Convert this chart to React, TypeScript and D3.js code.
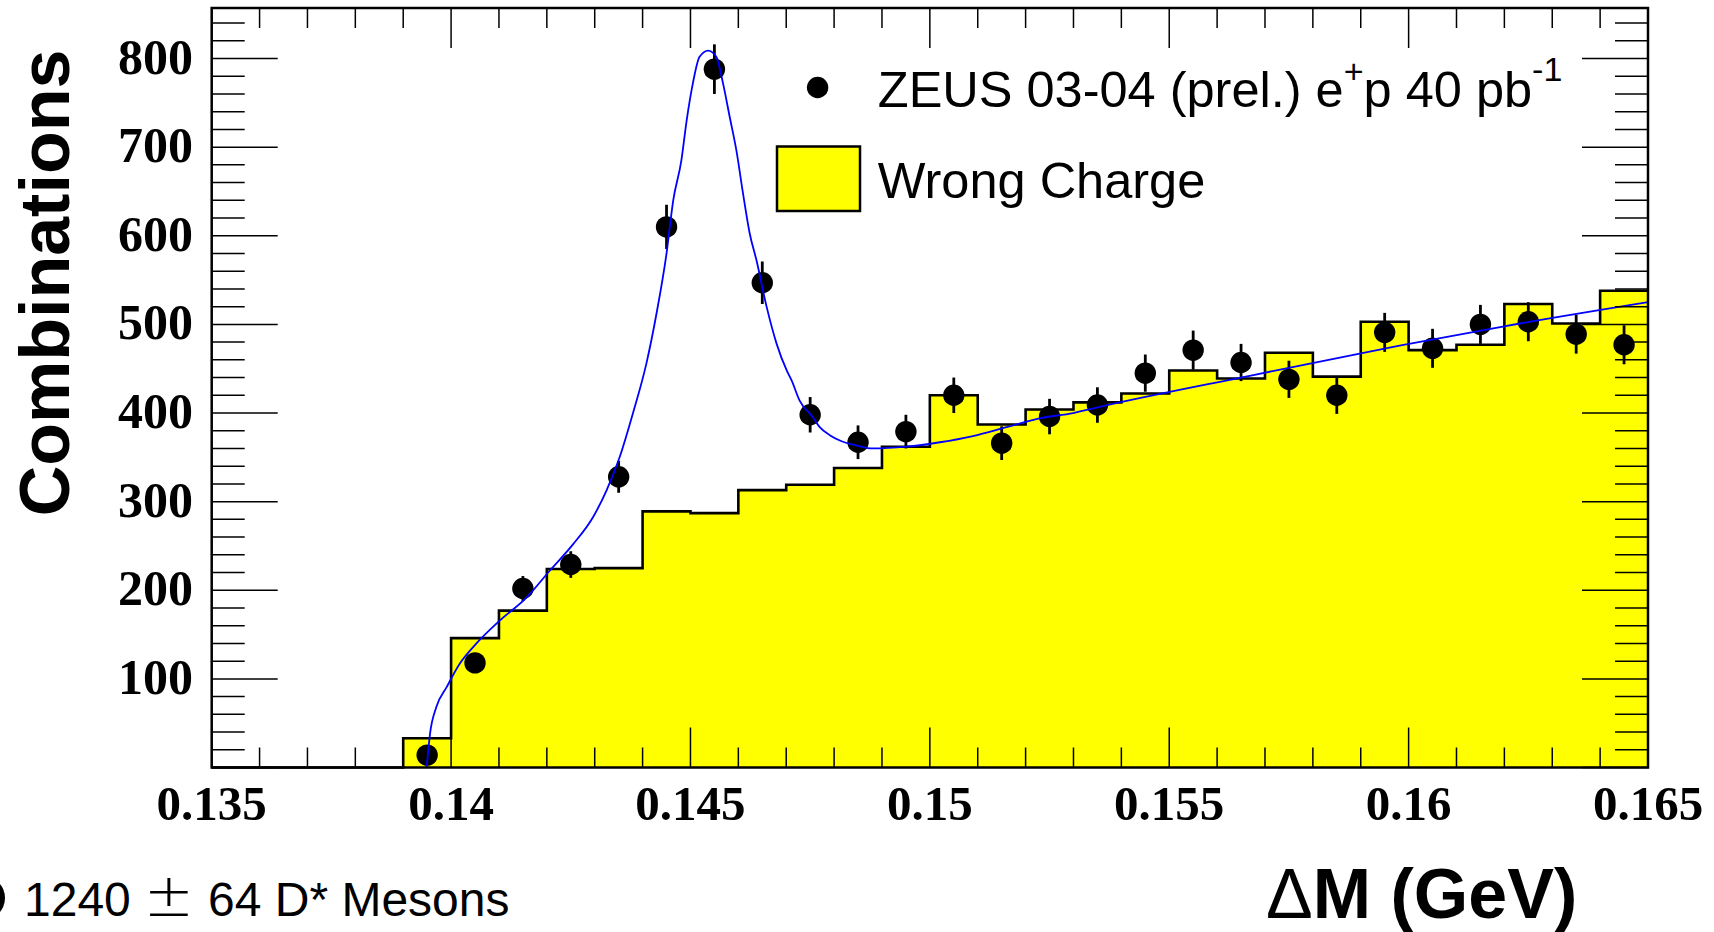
import React from "react";
import * as d3 from "d3";

// Lower edges of the 0.001 GeV bins of the Wrong Charge histogram
const binEdges = [
  0.135, 0.136, 0.137, 0.138, 0.139, 0.14, 0.141, 0.142, 0.143, 0.144,
  0.145, 0.146, 0.147, 0.148, 0.149, 0.15, 0.151, 0.152, 0.153, 0.154,
  0.155, 0.156, 0.157, 0.158, 0.159, 0.16, 0.161, 0.162, 0.163, 0.164,
];
const wrongCharge = [
  0, 0, 0, 0, 33, 146, 177, 224, 225, 289,
  287, 313, 319, 338, 362, 420, 387, 404, 412, 422,
  448, 439, 468, 441, 503, 471, 477, 523, 501, 538,
];

// ZEUS data points (bin centres), counts and statistical errors
const dataX = [
  0.1395, 0.1405, 0.1415, 0.1425, 0.1435, 0.1445, 0.1455, 0.1465, 0.1475,
  0.1485, 0.1495, 0.1505, 0.1515, 0.1525, 0.1535, 0.1545, 0.1555, 0.1565,
  0.1575, 0.1585, 0.1595, 0.1605, 0.1615, 0.1625, 0.1635, 0.1645,
];
const dataY = [
  14, 118, 202, 229, 328, 610, 788, 547, 398, 367, 379, 420, 366, 396, 409,
  445, 471, 457, 438, 420, 491, 473, 500, 503, 489, 477,
];
const dataErr = [
  4, 11, 14, 15, 18, 25, 28, 24, 20, 19, 19, 20, 19, 20, 20, 21, 22, 21, 21,
  21, 22, 22, 22, 22, 22, 22,
];

// Fitted signal + background curve, sampled
const fitX = [
  0.13949, 0.13956, 0.13969, 0.13991, 0.14018, 0.14053, 0.14102, 0.14158,
  0.14206, 0.14255, 0.14297, 0.14325, 0.14352, 0.1438, 0.14408, 0.14429,
  0.1445, 0.14464, 0.14481, 0.14492, 0.14505, 0.14519, 0.14537, 0.14554,
  0.14568, 0.14582, 0.14596, 0.1461, 0.14624, 0.14638, 0.14659, 0.1468,
  0.14701, 0.14711, 0.14728, 0.14756, 0.1477, 0.14791, 0.14812, 0.1485,
  0.14881, 0.14951, 0.15021, 0.1509, 0.1516, 0.15229, 0.15299, 0.15355,
  0.15668, 0.15981, 0.16191, 0.165,
];
const fitY = [
  0, 38, 68, 91, 117, 140, 166, 192, 222, 252, 283, 313, 350, 400, 456, 512,
  580, 640, 685, 730, 772, 802, 809, 802, 772, 734, 696, 647, 602, 572, 520,
  478, 448, 437, 414, 395, 384, 375, 369, 363, 360, 362, 367, 374, 384, 394,
  400, 407, 442, 476, 497, 525,
];

const xTickValues = [0.135, 0.14, 0.145, 0.15, 0.155, 0.16, 0.165];
const xTickLabels = ["0.135", "0.14", "0.145", "0.15", "0.155", "0.16", "0.165"];
const yTickValues = [100, 200, 300, 400, 500, 600, 700, 800];

const W = 1714;
const H = 932;
const frame = { left: 211.7, right: 1648, top: 8, bottom: 767.5 };

const x = d3.scaleLinear().domain([0.135, 0.165]).range([frame.left, frame.right]);
const y = d3.scaleLinear().domain([0, 857]).range([frame.bottom, frame.top]);

const serif = "'Liberation Serif', 'Times New Roman', serif";
const sans = "'Liberation Sans', Arial, Helvetica, sans-serif";

export default function App() {
  // histogram as step function
  const stepPts: [number, number][] = binEdges.map((e, i) => [e, wrongCharge[i]]);
  stepPts.push([0.165, wrongCharge[wrongCharge.length - 1]]);

  const histArea = d3
    .area<[number, number]>()
    .x((d) => x(d[0]))
    .y0(y(0))
    .y1((d) => y(d[1]))
    .curve(d3.curveStepAfter)(stepPts) as string;
  const histLine = d3
    .line<[number, number]>()
    .x((d) => x(d[0]))
    .y((d) => y(d[1]))
    .curve(d3.curveStepAfter)(stepPts) as string;

  const fitPts: [number, number][] = fitX.map((v, i) => [v, fitY[i]]);
  const fitPath = d3
    .line<[number, number]>()
    .x((d) => x(d[0]))
    .y((d) => y(d[1]))
    .curve(d3.curveMonotoneX)(fitPts) as string;

  // minor ticks
  const xMinor = d3.range(0, 31).map((i) => 0.135 + i * 0.001);
  const yMinor = d3.range(0, 43).map((i) => i * 20);

  const majorYLen = 66;
  const minorYLen = 33;
  const majorXLen = 40;
  const minorXLen = 20;

  const isMajorX = (v: number) => xTickValues.some((t) => Math.abs(t - v) < 1e-7);

  return (
    <svg
      width={W}
      height={H}
      style={{ position: "absolute", left: 0, top: 0, display: "block", background: "#fff" }}
    >
      {/* Wrong Charge histogram */}
      <path d={histArea} fill="#ffff00" stroke="none" />
      <path d={histLine} fill="none" stroke="#000" strokeWidth={2.6} />

      {/* Data points with error bars */}
      {dataX.map((v, i) => (
        <g key={"p" + i}>
          <line
            x1={x(v)}
            x2={x(v)}
            y1={y(dataY[i] - dataErr[i])}
            y2={y(dataY[i] + dataErr[i])}
            stroke="#000"
            strokeWidth={2.8}
          />
          <circle cx={x(v)} cy={y(dataY[i])} r={10.7} fill="#000" />
        </g>
      ))}

      {/* Fit */}
      <path d={fitPath} fill="none" stroke="#0000ff" strokeWidth={1.8} />

      {/* Axis ticks: bottom/top */}
      {xMinor.map((v, i) => {
        const len = isMajorX(v) ? majorXLen : minorXLen;
        return (
          <g key={"xt" + i}>
            <line x1={x(v)} x2={x(v)} y1={frame.bottom} y2={frame.bottom - len} stroke="#000" strokeWidth={1.5} />
            <line x1={x(v)} x2={x(v)} y1={frame.top} y2={frame.top + len} stroke="#000" strokeWidth={1.5} />
          </g>
        );
      })}
      {/* Axis ticks: left/right */}
      {yMinor.map((v, i) => {
        if (y(v) < frame.top) return null;
        const len = v % 100 === 0 ? majorYLen : minorYLen;
        return (
          <g key={"yt" + i}>
            <line x1={frame.left} x2={frame.left + len} y1={y(v)} y2={y(v)} stroke="#000" strokeWidth={1.5} />
            <line x1={frame.right} x2={frame.right - len} y1={y(v)} y2={y(v)} stroke="#000" strokeWidth={1.5} />
          </g>
        );
      })}

      {/* Frame */}
      <rect
        x={frame.left}
        y={frame.top}
        width={frame.right - frame.left}
        height={frame.bottom - frame.top}
        fill="none"
        stroke="#000"
        strokeWidth={2.5}
      />

      {/* Tick labels */}
      {yTickValues.map((v) => (
        <text
          key={"yl" + v}
          x={193}
          y={y(v) + 15}
          textAnchor="end"
          fontFamily={serif}
          fontWeight="bold"
          fontSize={50}
        >
          {v}
        </text>
      ))}
      {xTickValues.map((v, i) => (
        <text
          key={"xl" + i}
          x={x(v)}
          y={820}
          textAnchor="middle"
          fontFamily={serif}
          fontWeight="bold"
          fontSize={49}
        >
          {xTickLabels[i]}
        </text>
      ))}

      {/* Axis titles */}
      <text
        transform="translate(69,283) rotate(-90)"
        textAnchor="middle"
        fontFamily={sans}
        fontWeight="bold"
        fontSize={70}
      >
        Combinations
      </text>
      <text x={1266} y={918} fontFamily={sans} fontWeight="bold" fontSize={70}>
        <tspan fontWeight="normal">Δ</tspan>M (GeV)
      </text>

      {/* Legend */}
      <circle cx={817.6} cy={87.5} r={10.7} fill="#000" />
      <text x={877.8} y={107} fontFamily={sans} fontSize={50.5}>
        ZEUS 03-04 (prel.) e
        <tspan fontSize={34} dy={-24}>+</tspan>
        <tspan dy={24}>p 40 pb</tspan>
        <tspan fontSize={34} dy={-26}>-1</tspan>
      </text>
      <rect x={777} y={146.5} width={83} height={64.5} fill="#ffff00" stroke="#000" strokeWidth={2.5} />
      <text x={877.8} y={198} fontFamily={sans} fontSize={50.5}>
        Wrong Charge
      </text>

      {/* Signal yield */}
      <circle cx={-17} cy={898} r={22} fill="#000" />
      <text x={24} y={916} fontFamily={sans} fontSize={48}>
        1240
      </text>
      <text x={169} y={916} textAnchor="middle" fontFamily="'DejaVu Sans', sans-serif" fontWeight={200} fontSize={60}>
        ±
      </text>
      <text x={208} y={916} fontFamily={sans} fontSize={48}>
        64 D* Mesons
      </text>
    </svg>
  );
}
